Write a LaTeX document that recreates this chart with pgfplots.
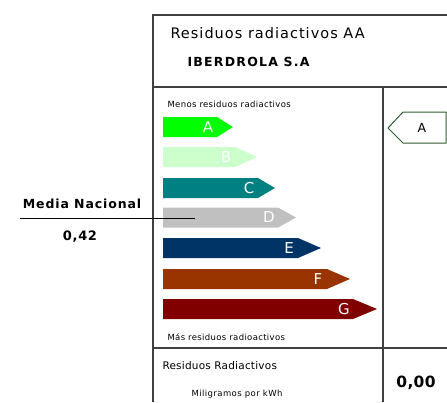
\documentclass[border=0pt]{standalone}
\usepackage{fontspec}
\setmainfont{DejaVu Sans}
\usepackage{pgfplots}
\pgfplotsset{compat=1.18}

\definecolor{clsA}{HTML}{00FF00}
\definecolor{clsB}{HTML}{CCFFCC}
\definecolor{clsC}{HTML}{008080}
\definecolor{clsD}{HTML}{C0C0C0}
\definecolor{clsE}{HTML}{003366}
\definecolor{clsF}{HTML}{993300}
\definecolor{clsG}{HTML}{800000}
\definecolor{frame}{HTML}{404040}
\definecolor{markgreen}{HTML}{2F5F2F}

% size in px, letter spacing in percent
\newcommand{\fs}[2]{\fontsize{#1}{#1}\selectfont\addfontfeatures{LetterSpace=#2}}

% one arrow per class: left edge 163, body end, tip, centre line (pixel units)
\newcommand{\arrowbar}[5]{%
  \addplot[fill=#1, draw=none] coordinates
    {(163,#4-10) (#2,#4-10) (#3,#4) (#2,#4+10) (163,#4+10)} --cycle;
  \node[text=white, font=\fontsize{15}{15}\selectfont] at (axis cs:#2-9,#4) {#5};
}

\begin{document}
\begin{tikzpicture}
\begin{axis}[
    width=447pt, height=402pt, scale only axis,
    xmin=0, xmax=447, ymin=0, ymax=402,
    y dir=reverse,
    hide axis, clip=false,
  ]
  \coordinate (bl) at (axis cs:0,402);
  \coordinate (tr) at (axis cs:447,0);

  % frame
  \draw[frame, line width=1.4pt]
    (axis cs:153,402) -- (axis cs:153,15) -- (axis cs:447,15);
  \draw[frame, line width=1.4pt] (axis cs:153,87) -- (axis cs:447,87);
  \draw[frame, line width=1.4pt] (axis cs:383,87) -- (axis cs:383,402);
  \draw[frame, line width=1.4pt] (axis cs:153,348) -- (axis cs:447,348);

  % class arrows
  \arrowbar{clsA}{217}{233}{127}{A}
  \arrowbar{clsB}{235}{257}{157}{B}
  \arrowbar{clsC}{258}{275}{188}{C}
  \arrowbar{clsD}{278}{296}{217.5}{D}
  \arrowbar{clsE}{298}{321}{248}{E}
  \arrowbar{clsF}{327}{350}{279}{F}
  \arrowbar{clsG}{353}{377}{309}{G}

  % rating marker
  \addplot[fill=white, draw=markgreen, line width=1pt] coordinates
    {(388,128) (403,112) (446,112) (446,143) (403,143)} --cycle;
  \node[font=\fontsize{12.5}{12.5}\selectfont] at (axis cs:422,128) {A};

  % national average
  \draw[black, line width=0.9pt] (axis cs:20,218) -- (axis cs:195,218);
  \node[font=\bfseries\fs{12.5}{7}] at (axis cs:82,204) {Media Nacional};
  \node[font=\bfseries\fs{13}{5}] at (axis cs:80,237) {0,42};

  % texts
  \node[anchor=west, font=\fs{14.5}{7}] at (axis cs:167,33) {Residuos radiactivos AA};
  \node[anchor=west, font=\bfseries\fs{12.5}{10}] at (axis cs:184,62) {IBERDROLA S.A};
  \node[anchor=west, font=\fs{8.5}{4}] at (axis cs:164,104) {Menos residuos radiactivos};
  \node[anchor=west, font=\fs{8.5}{4}] at (axis cs:164,337) {Más residuos radioactivos};
  \node[anchor=west, font=\fs{10.5}{2}] at (axis cs:159,366) {Residuos Radiactivos};
  \node[anchor=west, font=\fs{8.5}{5}] at (axis cs:188,394) {Miligramos por kWh};
  \node[font=\bfseries\fs{15.5}{2}] at (axis cs:416,383) {0,00};
\end{axis}
\pgfresetboundingbox
\path (bl) rectangle (tr);
\end{tikzpicture}
\end{document}
